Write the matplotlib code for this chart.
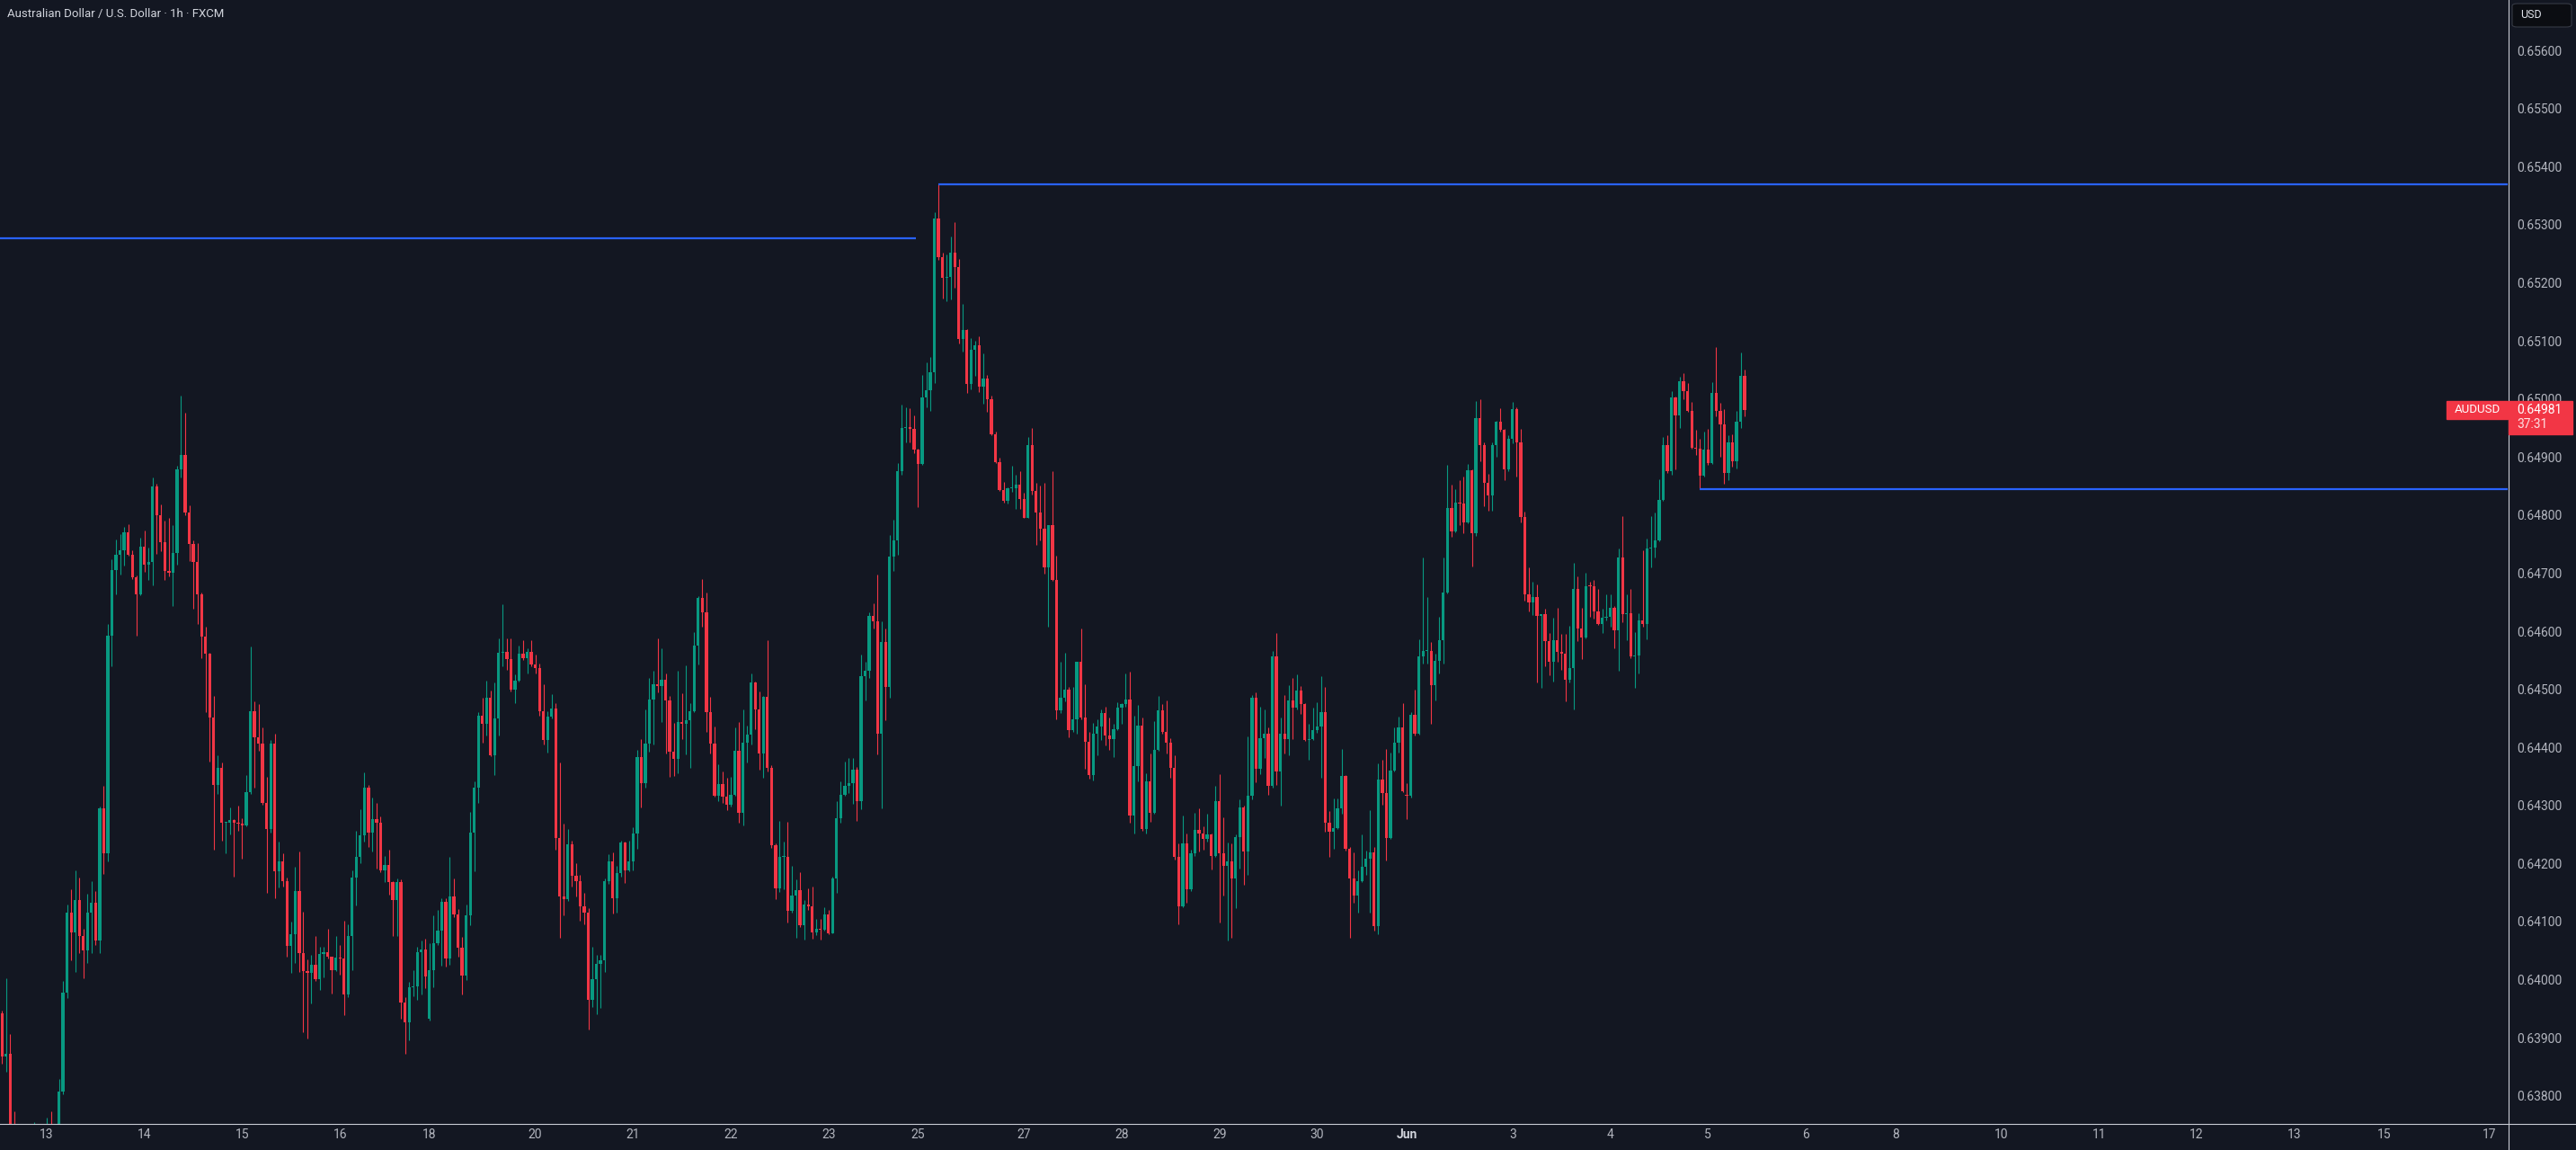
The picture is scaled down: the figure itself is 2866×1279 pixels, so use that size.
import numpy as np
import matplotlib
matplotlib.use('Agg')
import matplotlib.pyplot as plt
from matplotlib.lines import Line2D
from matplotlib.patches import Rectangle, FancyBboxPatch

plt.rcParams['font.family'] = ['Roboto', 'DejaVu Sans']

# AUDUSD 1h candles, prices in points (1e-5). bar 0 = May 13 00:00, weekends removed
first_bar = -11
opens = [
    63942, 63868, 63872, 63740, 63735, 63720, 63710, 63725, 63730, 63740, 63730,
    63735, 63745, 63730, 63735, 63807, 63977, 64116, 64081, 64137, 64076,
    64050, 64116, 64133, 64067, 64295, 64217, 64592, 64706, 64732, 64739,
    64770, 64732, 64693, 64663, 64745, 64715, 64719, 64850, 64800, 64754,
    64704, 64700, 64735, 64878, 64904, 64804, 64750, 64719, 64663, 64591,
    64561, 64452, 64335, 64365, 64270, 64270, 64275, 64270, 64268, 64266,
    64323, 64462, 64417, 64407, 64305, 64259, 64407, 64187, 64204, 64170,
    64058, 64079, 64153, 64046, 64015, 64011, 64026, 64001, 64045, 64047,
    64039, 64017, 64038, 64037, 63975, 64075, 64176, 64211, 64248, 64331,
    64253, 64276, 64271, 64188, 64198, 64168, 64137, 64168, 63961, 63927,
    63987, 63989, 64048, 64052, 63933, 64017, 64063, 64085, 64134, 64037,
    64144, 64113, 64055, 64007, 64111, 64253, 64331, 64454, 64440, 64486,
    64387, 64450, 64563, 64565, 64552, 64500, 64515, 64561, 64553, 64565,
    64543, 64537, 64463, 64413, 64453, 64467, 64244, 64144, 64139, 64233,
    64179, 64170, 64127, 64115, 63965, 64001, 64027, 64034, 64169, 64203,
    64141, 64184, 64236, 64189, 64203, 64252, 64384, 64339, 64406, 64483,
    64508, 64505, 64517, 64481, 64392, 64380, 64444, 64440, 64447, 64462,
    64576, 64657, 64633, 64461, 64406, 64317, 64337, 64315, 64301, 64319,
    64394, 64288, 64408, 64422, 64512, 64465, 64390, 64487, 64365, 64231,
    64157, 64211, 64212, 64118, 64145, 64154, 64094, 64130, 64127, 64082,
    64087, 64086, 64112, 64080, 64175, 64278, 64319, 64333, 64339, 64362,
    64307, 64523, 64532, 64626, 64617, 64424, 64581, 64504, 64728, 64756,
    64875, 64950, 64951, 64949, 64913, 64888, 65002, 65015, 65046, 65310,
    65244, 65208, 65210, 65251, 65227, 65103, 65118, 65026, 65085, 65092,
    65021, 65035, 64999, 64939, 64891, 64843, 64824, 64846, 64846, 64852,
    64828, 64795, 64920, 64842, 64805, 64777, 64710, 64782, 64688, 64464,
    64486, 64499, 64430, 64448, 64548, 64451, 64410, 64353, 64424, 64436,
    64459, 64421, 64414, 64432, 64468, 64474, 64483, 64282, 64368, 64437,
    64259, 64341, 64288, 64396, 64464, 64427, 64408, 64365, 64211, 64127,
    64234, 64155, 64217, 64258, 64251, 64243, 64250, 64213, 64307, 64217,
    64196, 64204, 64174, 64245, 64297, 64220, 64316, 64485, 64363, 64416,
    64423, 64333, 64556, 64358, 64423, 64415, 64481, 64468, 64498, 64474,
    64412, 64414, 64429, 64436, 64460, 64271, 64255, 64261, 64295, 64351,
    64226, 64175, 64145, 64170, 64194, 64209, 64219, 64093, 64345, 64322,
    64244, 64360, 64408, 64435, 64318, 64316, 64456, 64424, 64556, 64566,
    64566, 64507, 64549, 64585, 64667, 64812, 64772, 64822, 64820, 64788,
    64877, 64769, 64967, 64920, 64856, 64834, 64920, 64961, 64946, 64878,
    64931, 64982, 64925, 64796, 64664, 64650, 64659, 64627, 64629, 64583,
    64548, 64584, 64564, 64562, 64517, 64537, 64673, 64605, 64589, 64678,
    64677, 64634, 64613, 64623, 64625, 64640, 64601, 64727, 64629, 64631,
    64556, 64558, 64619, 64613, 64742, 64744, 64757, 64826, 64920, 64875,
    65002, 64971, 65030, 65013, 64980, 64916, 64914, 64868, 64913, 64890,
    65010, 64980, 64956, 64873, 64925, 64893, 64960, 65040,
]
highs = [
    63946, 64003, 63907, 63774, 63745, 63740, 63745, 63748, 63755, 63750, 63748,
    63762, 63774, 63750, 63829, 63998, 64130, 64156, 64188, 64176, 64087,
    64148, 64170, 64153, 64298, 64333, 64613, 64724, 64758, 64767, 64780,
    64784, 64740, 64696, 64761, 64774, 64744, 64865, 64854, 64819, 64791,
    64795, 64782, 64885, 65006, 64976, 64817, 64756, 64752, 64666, 64608,
    64563, 64489, 64387, 64374, 64272, 64296, 64277, 64300, 64278, 64353,
    64574, 64479, 64474, 64435, 64349, 64413, 64424, 64237, 64218, 64176,
    64100, 64194, 64220, 64117, 64035, 64043, 64075, 64057, 64057, 64087,
    64040, 64075, 64059, 64102, 64095, 64189, 64257, 64294, 64357, 64335,
    64314, 64304, 64281, 64213, 64224, 64170, 64175, 64172, 63970, 63996,
    64017, 64056, 64068, 64070, 64063, 64111, 64120, 64141, 64141, 64211,
    64175, 64122, 64074, 64130, 64289, 64341, 64460, 64486, 64515, 64498,
    64511, 64587, 64647, 64587, 64587, 64526, 64576, 64585, 64570, 64585,
    64559, 64544, 64509, 64463, 64492, 64476, 64374, 64268, 64259, 64239,
    64201, 64181, 64150, 64123, 64056, 64043, 64042, 64175, 64216, 64219,
    64196, 64240, 64238, 64240, 64262, 64396, 64414, 64466, 64520, 64532,
    64588, 64570, 64528, 64489, 64442, 64532, 64493, 64541, 64476, 64598,
    64661, 64690, 64667, 64487, 64436, 64371, 64359, 64347, 64349, 64434,
    64444, 64466, 64438, 64528, 64514, 64497, 64489, 64585, 64370, 64234,
    64273, 64238, 64272, 64196, 64173, 64185, 64137, 64158, 64161, 64104,
    64104, 64124, 64120, 64177, 64308, 64342, 64375, 64382, 64382, 64367,
    64560, 64548, 64632, 64648, 64697, 64617, 64605, 64766, 64792, 64890,
    64990, 64986, 64984, 64972, 64915, 65041, 65063, 65072, 65321, 65370,
    65252, 65248, 65279, 65304, 65241, 65164, 65120, 65105, 65100, 65108,
    65079, 65041, 65006, 64943, 64899, 64857, 64848, 64885, 64869, 64875,
    64839, 64934, 64950, 64855, 64851, 64855, 64782, 64876, 64730, 64548,
    64563, 64504, 64504, 64548, 64605, 64508, 64426, 64442, 64448, 64466,
    64470, 64452, 64441, 64477, 64476, 64528, 64530, 64455, 64473, 64452,
    64356, 64390, 64445, 64489, 64474, 64481, 64416, 64386, 64234, 64282,
    64252, 64224, 64288, 64295, 64264, 64286, 64252, 64333, 64354, 64279,
    64236, 64234, 64250, 64311, 64300, 64419, 64490, 64494, 64470, 64465,
    64435, 64566, 64597, 64451, 64490, 64507, 64519, 64525, 64505, 64476,
    64440, 64468, 64478, 64523, 64504, 64290, 64312, 64312, 64397, 64353,
    64228, 64219, 64189, 64250, 64222, 64292, 64229, 64372, 64378, 64397,
    64391, 64434, 64453, 64476, 64339, 64460, 64500, 64586, 64727, 64659,
    64582, 64561, 64625, 64727, 64887, 64852, 64845, 64860, 64867, 64888,
    64879, 64997, 64999, 64925, 64871, 64925, 64962, 64984, 64948, 64938,
    64995, 64986, 64948, 64806, 64710, 64685, 64680, 64630, 64638, 64597,
    64623, 64641, 64595, 64595, 64610, 64717, 64694, 64641, 64700, 64685,
    64688, 64672, 64638, 64663, 64664, 64643, 64742, 64798, 64664, 64673,
    64599, 64631, 64740, 64760, 64798, 64805, 64862, 64935, 64938, 65013,
    65004, 65038, 65044, 65028, 64995, 64946, 64931, 64943, 64948, 65029,
    65089, 64993, 64982, 64938, 64939, 64980, 65080, 65050,
]
lows = [
    63855, 63842, 63720, 63700, 63700, 63690, 63700, 63705, 63715, 63715, 63718,
    63720, 63720, 63720, 63725, 63803, 63968, 64033, 64014, 64046, 64003,
    64029, 64046, 64060, 64046, 64182, 64204, 64540, 64663, 64698, 64713,
    64730, 64690, 64593, 64662, 64702, 64688, 64679, 64733, 64738, 64689,
    64695, 64643, 64715, 64865, 64800, 64720, 64639, 64613, 64554, 64461,
    64376, 64224, 64320, 64240, 64217, 64250, 64178, 64257, 64209, 64264,
    64320, 64331, 64394, 64301, 64150, 64253, 64140, 64159, 64161, 64039,
    64011, 64029, 64014, 63909, 63898, 63959, 63998, 63982, 64004, 64037,
    63976, 64015, 64009, 63939, 63970, 64017, 64128, 64200, 64237, 64228,
    64220, 64191, 64185, 64168, 64146, 64076, 64076, 63933, 63872, 63896,
    63972, 63965, 63974, 63985, 63930, 63987, 64060, 64024, 64022, 64026,
    64107, 64039, 63974, 64000, 64094, 64187, 64305, 64408, 64420, 64385,
    64353, 64420, 64540, 64533, 64497, 64476, 64513, 64550, 64527, 64540,
    64527, 64454, 64405, 64391, 64450, 64224, 64072, 64111, 64136, 64161,
    64144, 64101, 64096, 63914, 63953, 63941, 63952, 64013, 64165, 64114,
    64116, 64177, 64167, 64186, 64188, 64226, 64297, 64331, 64393, 64405,
    64495, 64443, 64390, 64350, 64351, 64355, 64414, 64388, 64365, 64460,
    64542, 64608, 64426, 64390, 64315, 64307, 64305, 64292, 64298, 64317,
    64270, 64265, 64374, 64405, 64432, 64361, 64347, 64359, 64227, 64139,
    64151, 64155, 64099, 64116, 64072, 64090, 64069, 64120, 64070, 64077,
    64069, 64085, 64078, 64080, 64150, 64270, 64317, 64321, 64303, 64274,
    64293, 64481, 64519, 64604, 64388, 64295, 64446, 64486, 64703, 64732,
    64870, 64925, 64925, 64906, 64814, 64886, 64986, 64979, 65028, 65239,
    65172, 65168, 65171, 65192, 65095, 65082, 65010, 65017, 65039, 65011,
    64992, 64977, 64937, 64889, 64841, 64822, 64820, 64840, 64811, 64811,
    64795, 64795, 64835, 64748, 64757, 64699, 64608, 64686, 64448, 64459,
    64480, 64417, 64426, 64423, 64449, 64363, 64346, 64343, 64387, 64412,
    64403, 64396, 64383, 64430, 64441, 64470, 64270, 64251, 64341, 64257,
    64251, 64272, 64286, 64394, 64424, 64389, 64348, 64207, 64095, 64125,
    64132, 64153, 64213, 64221, 64224, 64237, 64190, 64211, 64099, 64145,
    64067, 64072, 64123, 64191, 64164, 64181, 64310, 64340, 64354, 64382,
    64318, 64330, 64335, 64299, 64389, 64386, 64415, 64466, 64457, 64411,
    64378, 64412, 64425, 64348, 64255, 64211, 64226, 64259, 64286, 64222,
    64072, 64132, 64116, 64168, 64180, 64116, 64084, 64079, 64301, 64205,
    64242, 64358, 64391, 64323, 64277, 64314, 64420, 64422, 64545, 64545,
    64441, 64481, 64528, 64545, 64665, 64763, 64770, 64783, 64768, 64786,
    64712, 64764, 64892, 64815, 64807, 64807, 64901, 64944, 64860, 64876,
    64924, 64867, 64788, 64652, 64634, 64628, 64511, 64502, 64539, 64524,
    64514, 64548, 64533, 64479, 64511, 64466, 64583, 64552, 64587, 64624,
    64622, 64611, 64597, 64618, 64608, 64571, 64532, 64616, 64584, 64554,
    64502, 64527, 64608, 64586, 64710, 64727, 64755, 64824, 64872, 64869,
    64879, 64950, 64999, 64978, 64914, 64904, 64845, 64866, 64886, 64888,
    64970, 64901, 64854, 64860, 64883, 64880, 64950, 64970,
]
closes = [
    63868, 63872, 63740, 63735, 63720, 63710, 63725, 63730, 63740, 63730, 63735,
    63745, 63730, 63735, 63807, 63977, 64116, 64081, 64137, 64076, 64050,
    64116, 64133, 64067, 64295, 64217, 64592, 64706, 64732, 64739, 64770,
    64732, 64693, 64663, 64745, 64715, 64719, 64850, 64800, 64754, 64704,
    64700, 64735, 64878, 64904, 64804, 64750, 64719, 64663, 64591, 64561,
    64452, 64335, 64365, 64270, 64270, 64275, 64270, 64268, 64266, 64323,
    64462, 64417, 64407, 64305, 64259, 64407, 64187, 64204, 64170, 64058,
    64079, 64153, 64046, 64015, 64011, 64026, 64001, 64045, 64047, 64039,
    64017, 64038, 64037, 63975, 64075, 64176, 64211, 64248, 64331, 64253,
    64276, 64271, 64188, 64198, 64168, 64137, 64168, 63961, 63927, 63987,
    63989, 64048, 64052, 64005, 64017, 64063, 64085, 64134, 64037, 64144,
    64113, 64055, 64007, 64111, 64253, 64331, 64454, 64440, 64486, 64387,
    64450, 64563, 64565, 64552, 64500, 64515, 64561, 64553, 64565, 64543,
    64537, 64463, 64413, 64453, 64467, 64244, 64144, 64139, 64233, 64179,
    64170, 64127, 64115, 63965, 64001, 64027, 64034, 64169, 64203, 64141,
    64184, 64236, 64189, 64203, 64252, 64384, 64339, 64406, 64483, 64508,
    64505, 64517, 64481, 64392, 64380, 64444, 64440, 64447, 64462, 64576,
    64657, 64633, 64461, 64406, 64317, 64337, 64315, 64301, 64319, 64394,
    64288, 64408, 64422, 64512, 64465, 64390, 64487, 64365, 64231, 64157,
    64211, 64212, 64118, 64145, 64154, 64094, 64130, 64127, 64082, 64087,
    64086, 64112, 64080, 64175, 64278, 64319, 64333, 64339, 64362, 64307,
    64523, 64532, 64626, 64617, 64424, 64581, 64504, 64728, 64756, 64875,
    64950, 64951, 64949, 64913, 64888, 65002, 65015, 65046, 65310, 65244,
    65208, 65210, 65251, 65227, 65103, 65118, 65026, 65085, 65092, 65021,
    65035, 64999, 64939, 64891, 64843, 64824, 64846, 64846, 64852, 64828,
    64795, 64920, 64842, 64805, 64777, 64710, 64782, 64688, 64464, 64486,
    64499, 64430, 64448, 64548, 64451, 64410, 64353, 64424, 64436, 64459,
    64421, 64414, 64432, 64468, 64474, 64483, 64282, 64368, 64437, 64259,
    64341, 64288, 64396, 64464, 64427, 64408, 64365, 64211, 64127, 64234,
    64155, 64217, 64258, 64251, 64243, 64250, 64213, 64307, 64217, 64196,
    64204, 64174, 64245, 64297, 64220, 64316, 64485, 64363, 64416, 64423,
    64333, 64556, 64358, 64423, 64415, 64481, 64468, 64498, 64474, 64412,
    64414, 64429, 64436, 64460, 64271, 64255, 64261, 64295, 64351, 64226,
    64175, 64145, 64170, 64194, 64209, 64219, 64093, 64345, 64322, 64244,
    64360, 64408, 64435, 64325, 64316, 64456, 64424, 64556, 64566, 64566,
    64507, 64549, 64585, 64667, 64812, 64772, 64822, 64820, 64788, 64877,
    64769, 64967, 64920, 64856, 64834, 64920, 64961, 64946, 64878, 64931,
    64982, 64925, 64796, 64664, 64650, 64659, 64627, 64629, 64583, 64548,
    64584, 64564, 64562, 64517, 64537, 64673, 64605, 64589, 64678, 64677,
    64634, 64613, 64623, 64625, 64640, 64601, 64727, 64629, 64631, 64556,
    64558, 64619, 64613, 64742, 64744, 64757, 64826, 64920, 64875, 65002,
    64971, 65030, 65013, 64980, 64916, 64914, 64868, 64913, 64890, 65010,
    64980, 64956, 64873, 64925, 64893, 64960, 65040, 64981,
]

# horizontal levels: price, first bar, last bar (None = to the right edge)
levels = [(0.65276, None, 213.5), (0.65370, 219, None), (0.64845, 406, None)]

price_ticks = [0.638 + 0.001 * k for k in range(19)]
date_pos = [0, 24, 48, 72, 94, 120, 144, 168, 192, 214, 240, 264, 288, 312,
            334, 360, 384, 408, 432, 454, 480, 504, 528, 552, 574, 600]
date_labels = ['13', '14', '15', '16', '18', '20', '21', '22', '23', '25', '27',
               '28', '29', '30', 'Jun', '3', '4', '5', '6', '8', '10', '11',
               '12', '13', '15', '17']

BG = '#131722'
UP = '#089981'
DOWN = '#f23645'
TXT = '#b2b5be'
BLUE = '#2962ff'

o = np.array(opens) / 1e5
h = np.array(highs) / 1e5
l = np.array(lows) / 1e5
c = np.array(closes) / 1e5
x = np.arange(first_bar, first_bar + len(c))

W, H = 2866, 1279
fig = plt.figure(figsize=(W / 100, H / 100), dpi=100, facecolor=BG)
ax = fig.add_axes([0, 29 / H, 2790 / W, 1250 / H])
ax.set_facecolor(BG)
ax.set_xlim(-11.48, 604.4)
ax.set_ylim(0.637517, 0.656867)

cols = np.where(c >= o, UP, DOWN)
ax.vlines(x, l, h, colors=cols, linewidth=0.8, zorder=2)
body_lo = np.minimum(o, c)
body_h = np.maximum(np.abs(c - o), 1.6e-5)
ax.bar(x, body_h, bottom=body_lo, width=0.72, color=cols, linewidth=0, zorder=3)

# levels
x0, x1 = ax.get_xlim()
for p, a, b in levels:
    ax.hlines(p, x0 if a is None else a, x1 if b is None else b,
              color=BLUE, linewidth=1.6, zorder=4)

for s in ax.spines.values():
    s.set_visible(False)

ax.yaxis.tick_right()
ax.set_yticks(price_ticks)
ax.set_yticklabels([f'{p:.5f}' for p in price_ticks])
ax.tick_params(axis='y', length=0, pad=7.2, labelsize=10, labelcolor=TXT)
ax.set_xticks(date_pos)
ax.set_xticklabels(date_labels)
ax.tick_params(axis='x', length=0, pad=3.6, labelsize=10, labelcolor=TXT)
for t in ax.get_xticklabels():
    if t.get_text() == 'Jun':
        t.set_fontweight('bold')
        t.set_color('#d1d4dc')

# frame lines of the price and time scales
fig.add_artist(Line2D([2790.5 / W] * 2, [0, 1], color='#c9ccd4', lw=0.8))
fig.add_artist(Line2D([0, 1], [29 / H] * 2, color='#c9ccd4', lw=0.8))

fig.text(8 / W, 1 - 16 / H, 'Australian Dollar / U.S. Dollar · 1h · FXCM',
         color='#d1d4dc', fontsize=9.5, va='center', ha='left')

# USD button
fig.add_artist(FancyBboxPatch((2795 / W, 1 - 30 / H), 66 / W, 26 / H,
                              boxstyle='round,pad=0,rounding_size=0.002',
                              transform=fig.transFigure, facecolor='#0b0d12',
                              edgecolor='#363a45', lw=0.8))
fig.text(2804 / W, 1 - 17 / H, 'USD', color='#e0e3eb', fontsize=9, va='center')

# last price tag
fig.canvas.draw()
last = c[-1]
yc = ax.transData.transform((0, last))[1]
fig.add_artist(Rectangle((2722 / W, (yc - 10) / H), 68 / W, 20 / H,
                         transform=fig.transFigure, color=DOWN, zorder=5))
fig.text(2756 / W, yc / H, 'AUDUSD', color='white', fontsize=9.5,
         ha='center', va='center', zorder=6)
fig.add_artist(Rectangle((2791 / W, (yc - 27) / H), 71 / W, 37 / H,
                         transform=fig.transFigure, color=DOWN, zorder=5))
fig.text(2800 / W, yc / H, f'{last:.5f}', color='white', fontsize=10,
         ha='left', va='center', zorder=6)
fig.text(2800 / W, (yc - 16) / H, '37:31', color='#fde1e3', fontsize=10,
         ha='left', va='center', zorder=6)

fig.savefig('out.png', dpi=100, facecolor=BG)
